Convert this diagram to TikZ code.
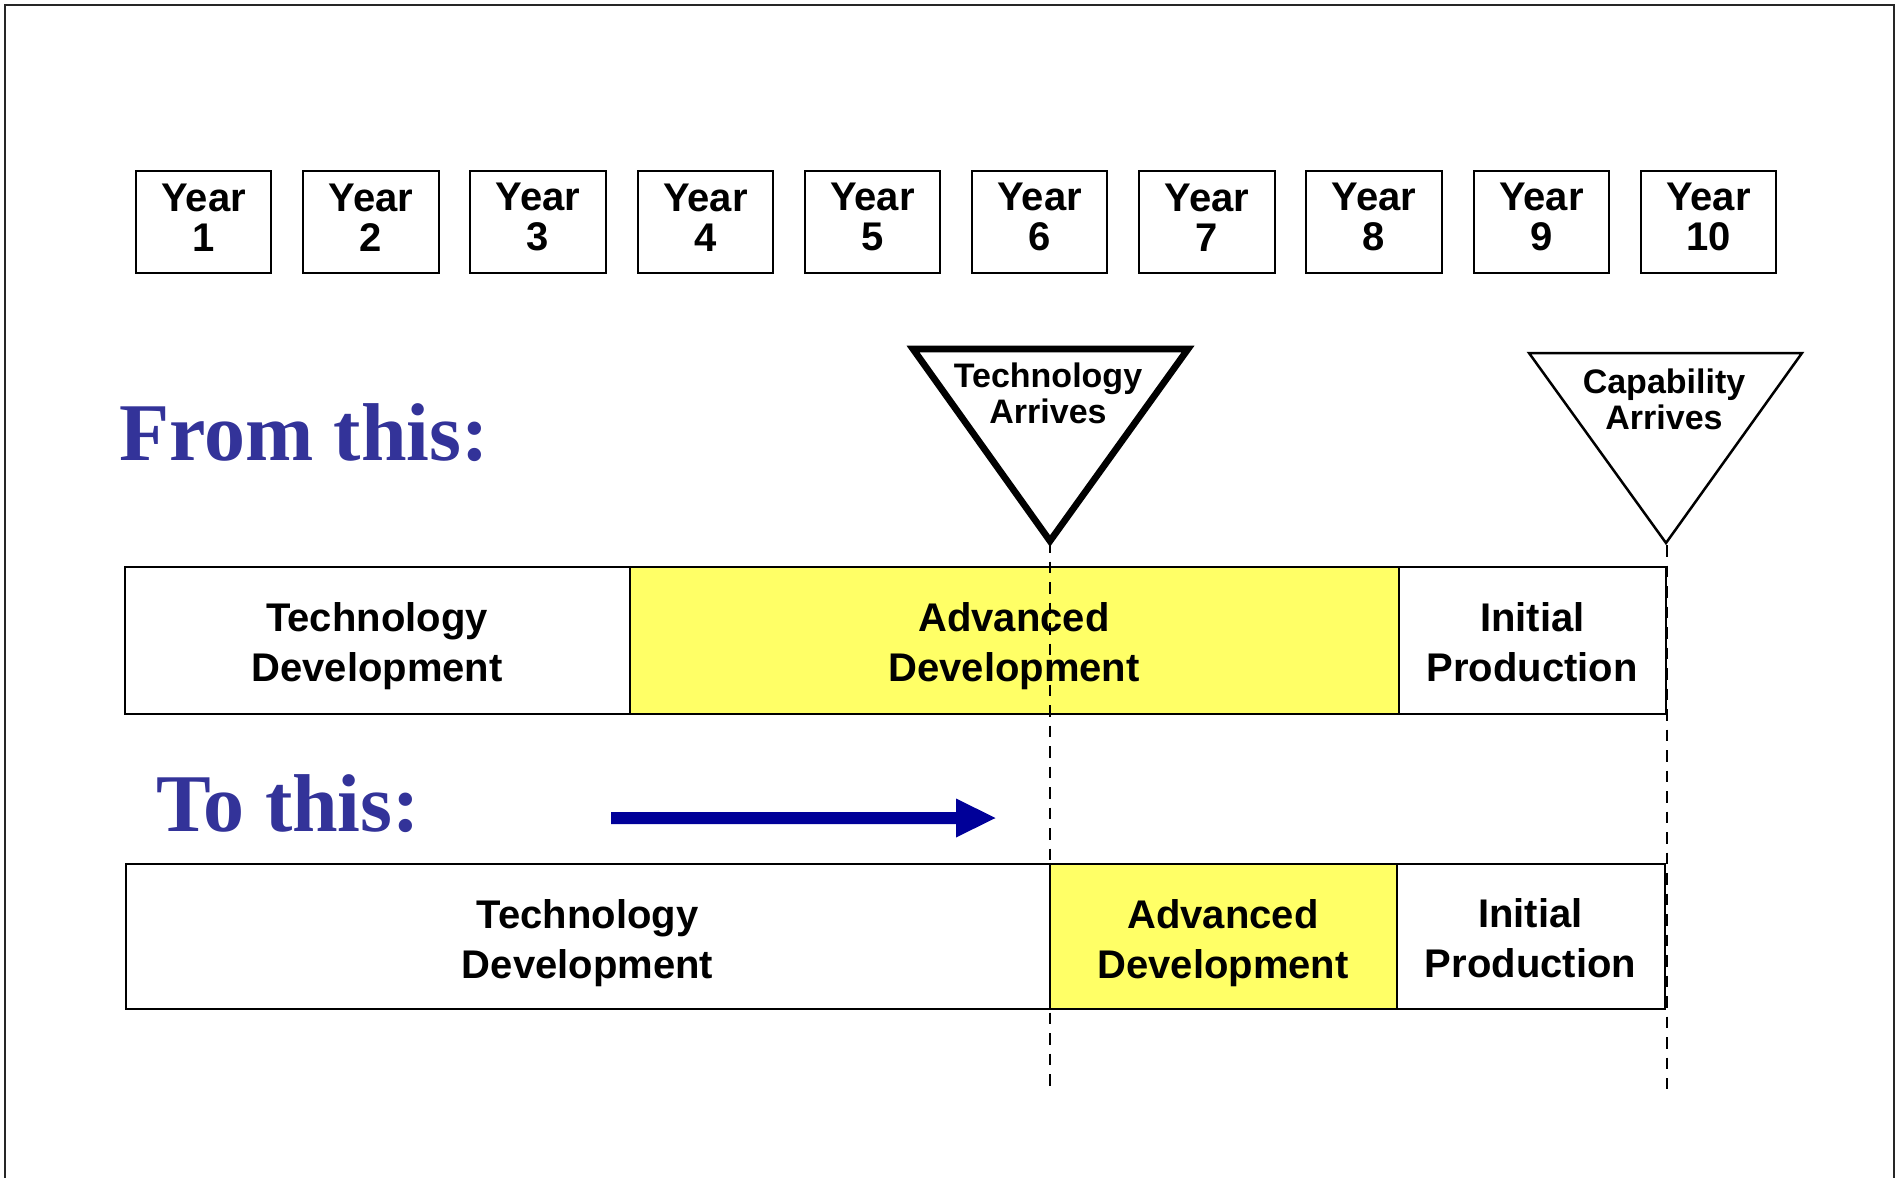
\documentclass[tikz,border=0pt]{standalone}
\usepackage{fontspec}
\setmainfont{Liberation Sans}
\newfontfamily\serifb{Liberation Serif}
\definecolor{yel}{HTML}{FFFF66}
\definecolor{headblue}{HTML}{333399}
\definecolor{arrblue}{HTML}{000099}
\begin{document}
\begin{tikzpicture}[x=0.5pt,y=-0.5pt,
  yearbox/.style={draw=black,line width=1pt,minimum width=67.7pt,minimum height=51pt,inner sep=0pt},
  yeartext/.style={align=center,inner sep=0pt,font={\fontsize{20pt}{20pt}\selectfont\bfseries},yshift=2.1pt},
  bar/.style={draw=black,line width=1pt,inner sep=0pt},
  bartext/.style={align=center,inner sep=0pt,font={\fontsize{20pt}{25pt}\selectfont\bfseries},yshift=-3.2pt},
  iptext/.style={bartext,yshift=2.4pt},
  tritext/.style={align=center,inner sep=0pt,font={\fontsize{17pt}{18.3pt}\selectfont\bfseries}},
  heading/.style={anchor=base west,inner sep=0pt,text=headblue,font={\serifb\fontsize{41pt}{41pt}\selectfont\bfseries}},
  marker/.style={draw=black,line width=1.35pt,dash pattern=on 5.85pt off 4.4pt}
]
\useasboundingbox (0,0) rectangle (1897,1178);
\fill[white] (0,0) rectangle (1897,1178);
\draw[line width=1pt,black!85] (5,1178) -- (5,5) -- (1894,5) -- (1894,1178);

% year boxes
\foreach \i in {1,...,10} {
  \node[yearbox] (y\i) at ({203.7+167.2*(\i-1)},221.5) {};
  \node[yeartext] (yt\i) at (y\i.center) {Year\\\i};
}

% headings
\node[heading] (from) at (118.6,460.7) {From this:};
\node[heading] (to) at (156,831.7) {To this:};

% row 1
\node[bar,fill=white,minimum width=252.5pt,minimum height=73.25pt] (td1) at (377,640.25) {};
\node[bar,fill=yel,minimum width=384.5pt,minimum height=73.25pt] (ad1) at (1014,640.25) {};
\node[bar,fill=white,minimum width=133.75pt,minimum height=73.25pt] (ip1) at (1532.25,640.25) {};
\node[bartext] (td1t) at (td1.center) {Technology\\Development};
\node[bartext] (ad1t) at (ad1.center) {Advanced\\Development};
\node[iptext] (ip1t) at (ip1.center) {Initial\\Production};

% row 2
\node[bar,fill=white,minimum width=462pt,minimum height=72.9pt] (td2) at (587.5,936.4) {};
\node[bar,fill=yel,minimum width=173.5pt,minimum height=72.9pt] (ad2) at (1223,936.4) {};
\node[bar,fill=white,minimum width=134pt,minimum height=72.9pt] (ip2) at (1530.5,936.4) {};
\node[bartext] (td2t) at (td2.center) {Technology\\Development};
\node[bartext] (ad2t) at (ad2.center) {Advanced\\Development};
\node[iptext] (ip2t) at (ip2.center) {Initial\\Production};

% triangles
\coordinate (ta) at (1050,541);
\draw[line width=3.35pt,line join=miter,fill=white] (913,349) -- (1188,349) -- (ta) -- cycle;
\node[tritext] (tat) at (1048,393.5) {Technology\\Arrives};
\coordinate (ca) at (1666,543);
\draw[line width=1.25pt,line join=miter,fill=white] (1529,353) -- (1802,353) -- (ca) -- cycle;
\node[tritext] (cat) at (1664,399.5) {Capability\\Arrives};

% arrow
\fill[arrblue] (611,812) -- (956,812) -- (956,798.5) -- (995.5,818) -- (956,837.5) -- (956,824) -- (611,824) -- cycle;

% dashed markers
\coordinate (tae) at (1050,1086);
\coordinate (cas) at (1667,545);
\coordinate (cae) at (1667,1089);
\draw[marker] (ta) -- (tae);
\draw[marker] (cas) -- (cae);
\end{tikzpicture}
\end{document}
